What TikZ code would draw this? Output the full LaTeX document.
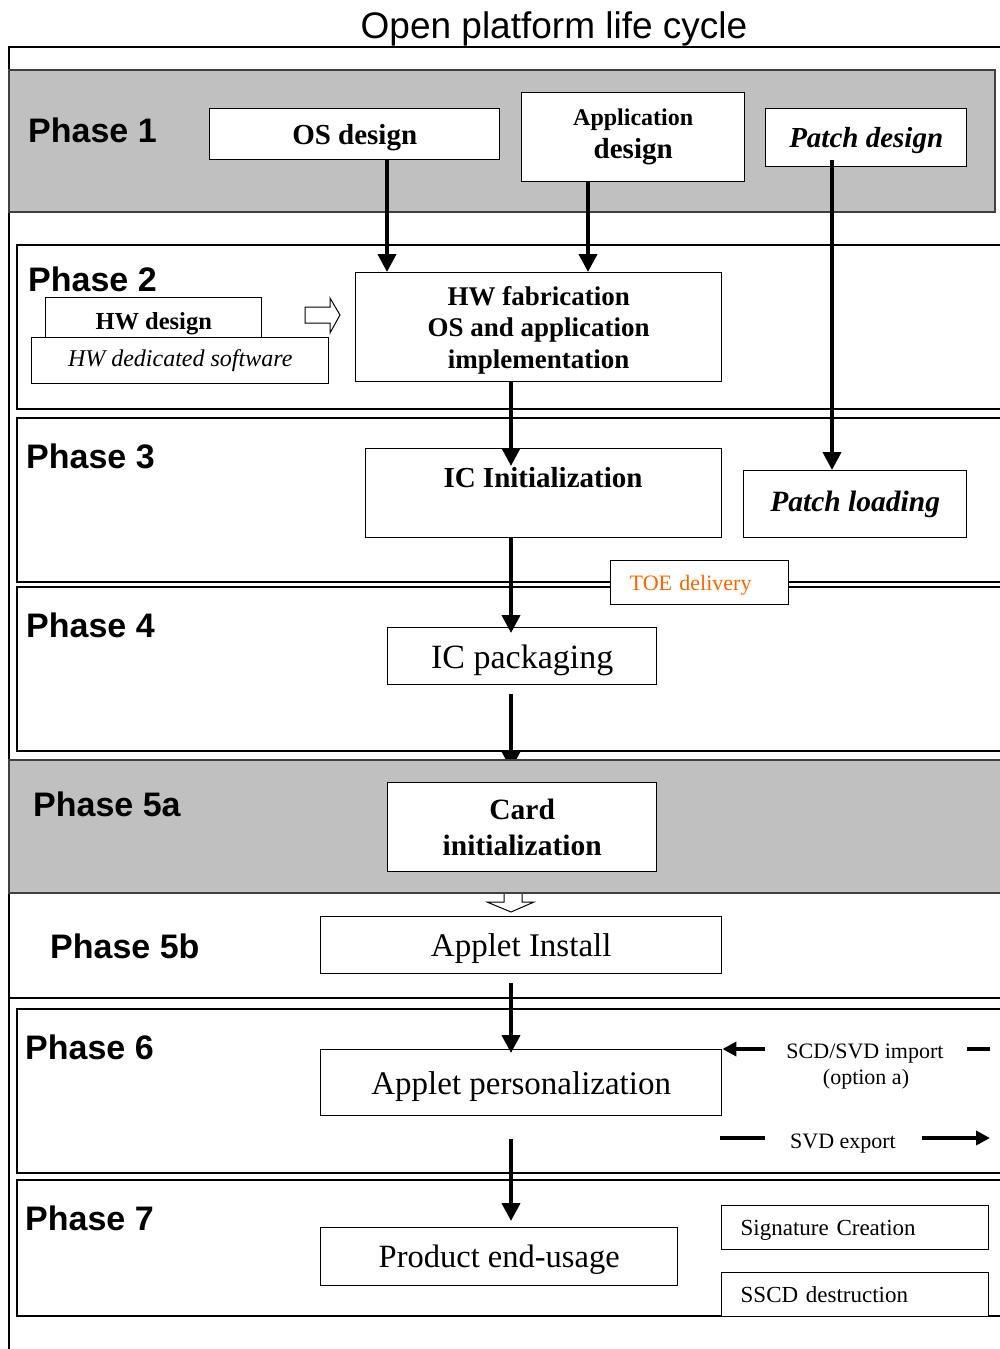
\documentclass[tikz,border=0pt]{standalone}
\usepackage{fontspec}
\setmainfont{Liberation Serif}
\newfontfamily\arialf{Liberation Sans}
\usetikzlibrary{arrows.meta,calc}
\definecolor{bandgray}{HTML}{C0C0C0}
\definecolor{toeorange}{HTML}{FF6600}
\tikzset{
  box/.style={draw=black, line width=1.4pt, fill=white, inner sep=0pt, anchor=north west},
  nodepth/.style={text depth=0pt},
  phase/.style={font=\arialf\bfseries\fontsize{34}{37}\selectfont, anchor=west, inner sep=0pt},
  band/.style={draw=black, line width=1.4pt, fill=white},
  grayband/.style={draw=black!75, line width=2pt, fill=bandgray},
  arr/.style={line width=4pt, -{Triangle[length=18pt,width=18pt]}},
  sarr/.style={line width=3.5pt, -{Triangle[length=14pt,width=14pt]}},
  dashseg/.style={line width=3.5pt},
  hollow/.style={draw=black, line width=1pt, fill=white},
  bigbold/.style={font=\bfseries\fontsize{29}{33}\selectfont},
  bigreg/.style={font=\fontsize{33}{36}\selectfont},
  small/.style={font=\fontsize{22}{26}\selectfont}
}
\begin{document}
\begin{tikzpicture}[x=1pt,y=-1pt]
\useasboundingbox (0,0) rectangle (1000,1349);
\clip (0,0) rectangle (1000,1349);
\fill[white] (0,0) rectangle (1000,1349);

% title and frame
\node[font=\arialf\fontsize{37}{40}\selectfont, nodepth] (title) at (554,25) {Open platform life cycle};
\draw[line width=1.4pt] (1005,47) -- (9,47) -- (9,1355);

% bands
\draw[grayband] (9,70) rectangle (995,212);
\draw[band] (17,245) rectangle (1010,409);
\draw[band] (17,418) rectangle (1010,582);
\draw[band] (17,587) rectangle (1010,751);
\draw[band] (17,1009) rectangle (1010,1173);
\draw[band] (17,1180) rectangle (1010,1316);
\draw[line width=1.4pt] (9,998) -- (1010,998);

% x positions of connectors
\coordinate (xa) at (387,0);
\coordinate (xb) at (588,0);
\coordinate (xc) at (832,0);
\coordinate (xd) at (511,0);

% phase labels
\node[phase] (p1) at (28,130) {Phase 1};
\node[phase] (p2) at (28,279) {Phase 2};
\node[phase] (p3) at (26,456) {Phase 3};
\node[phase] (p4) at (26,625) {Phase 4};
\node[phase] (p6) at (25,1047) {Phase 6};
\node[phase] (p7) at (25,1218) {Phase 7};

% Phase 1 boxes
\node[box, bigbold, nodepth, minimum width=290pt, minimum height=51pt] (osd) at (209,108) {OS design};
\node[box, bigbold, align=center, minimum width=223pt, minimum height=89pt] (appd) at (521,92)
  {{\fontsize{24}{33}\selectfont Application}\\design};
\node[box, nodepth, font=\bfseries\itshape\fontsize{29}{33}\selectfont, minimum width=201pt, minimum height=58pt] (pd) at (765,108) {Patch design};

% Phase 2 boxes
\node[box, nodepth, font=\bfseries\fontsize{24.5}{28}\selectfont, minimum width=216pt, minimum height=46pt] (hwd) at (45,297) {HW design};
\node[box, font=\itshape\fontsize{24}{28}\selectfont, minimum width=297pt, minimum height=46pt] (hws) at (31,337) {HW dedicated software};
\draw[hollow] (305,307) -- (330,307) -- (330,298) -- (340,315) -- (330,333) -- (330,323) -- (305,323) -- cycle;
\node[box, align=center, nodepth, font=\bfseries\fontsize{27}{31.5}\selectfont, minimum width=366pt, minimum height=109pt] (hwf) at (355,272)
  {HW fabrication\\OS and application\\implementation};

% Phase 3 boxes
\node[box, minimum width=356pt, minimum height=89pt] (ici) at (365,448) {};
\node[bigbold, inner sep=0pt] (icit) at (543,478) {IC Initialization};
\node[box, font=\bfseries\itshape\fontsize{29.5}{33}\selectfont, minimum width=223pt, minimum height=67pt] (pl) at (743,470) {Patch loading};

% TOE delivery
\node[box, nodepth, font=\fontsize{22}{26}\selectfont, text=toeorange, text width=140pt, inner xsep=19pt, align=left, minimum height=44pt] (toe) at (610,560) {TOE delivery};

% Phase 4
\node[box, nodepth, font=\fontsize{34}{38}\selectfont, minimum width=269pt, minimum height=57pt] (icp) at (387,627) {IC packaging};

% arrows phase 1 -> 4
\draw[arr] (osd.south -| xa) -- (hwf.north -| xa);
\draw[arr] (appd.south -| xb) -- (hwf.north -| xb);
\draw[arr] ($(pd.south -| xc)+(0,-7)$) -- (pl.north -| xc);
\draw[arr] (hwf.south -| xd) -- ($(ici.north -| xd)+(0,18)$);
\draw[arr] (ici.south -| xd) -- ($(icp.north -| xd)+(0,6)$);
\draw[arr] ($(icp.south -| xd)+(0,9)$) -- ($(icp.south -| xd)+(0,84)$);

% Phase 5a
\draw[grayband] (9,760) rectangle (1010,893);
\node[phase] (p5a) at (33,804) {Phase 5a};
\node[box, align=center, font=\bfseries\fontsize{29.5}{36}\selectfont, minimum width=269pt, minimum height=89pt] (cardi) at (387,782)
  {Card\\initialization};
\draw[hollow] (504,894) -- (504,902) -- (487,902) -- (511,912) -- (534,902) -- (522,902) -- (522,894);

% Phase 5b
\node[phase] (p5b) at (50,946) {Phase 5b};
\node[box, bigreg, nodepth, minimum width=401pt, minimum height=57pt] (ai) at (320,916) {Applet Install};

% Phase 6
\node[box, bigreg, nodepth, minimum width=401pt, minimum height=66pt] (apers) at (320,1049) {Applet personalization};
\draw[arr] ($(ai.south -| xd)+(0,9)$) -- ($(apers.north -| xd)+(0,4)$);
\node[small, nodepth, inner sep=0pt] (imp) at (865,1051) {SCD/SVD import};
\node[small, nodepth, inner sep=0pt] (opt) at (866,1077) {(option a)};
\node[small, nodepth, inner sep=0pt] (exp) at (843,1141) {SVD export};
\coordinate (impL) at (765,1049);
\coordinate (impR1) at (967,1049);
\coordinate (impR2) at (990,1049);
\coordinate (expL) at (720,1138);
\coordinate (expL2) at (765,1138);
\coordinate (expR1) at (922,1138);
\coordinate (expR2) at (990,1138);
\draw[sarr] (impL) -- (apers.north east);
\draw[dashseg] (impR1) -- (impR2);
\draw[dashseg] (expL) -- (expL2);
\draw[sarr] (expR1) -- (expR2);

% Phase 7
\node[box, nodepth, font=\fontsize{32.5}{36}\selectfont, minimum width=357pt, minimum height=58pt] (pe) at (320,1227) {Product end-usage};
\draw[arr] ($(apers.south -| xd)+(0,23)$) -- ($(pe.north -| xd)+(0,-6)$);
\node[box, nodepth, font=\fontsize{23}{26}\selectfont, text width=229pt, inner xsep=19pt, align=left, minimum height=44pt] (sig) at (721,1205) {Signature Creation};
\node[box, nodepth, font=\fontsize{23}{26}\selectfont, text width=229pt, inner xsep=19pt, align=left, minimum height=44pt] (sscd) at (721,1272) {SSCD destruction};
\end{tikzpicture}
\end{document}
